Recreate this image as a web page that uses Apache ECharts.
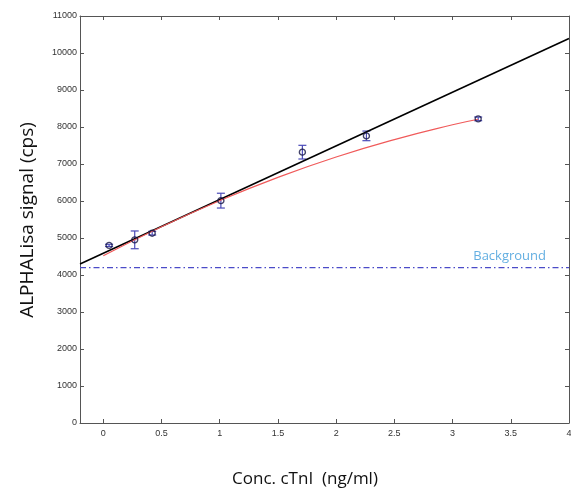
<!DOCTYPE html>
<html>
<head>
<meta charset="utf-8">
<script src="https://cdn.jsdelivr.net/npm/echarts@6/dist/echarts.min.js"></script>
<style>html,body{margin:0;padding:0;background:#fff;}#c{width:571px;height:490px;}</style>
</head>
<body>
<div id="c"></div>
<script>
// Measured points: concentration (ng/ml), signal (cps), error (+/- cps)
var concX = [0.05, 0.27, 0.42, 1.01, 1.71, 2.26, 3.22];
var signalY = [4800, 4950, 5130, 6010, 7320, 7760, 8220];
var signalErr = [30, 240, 50, 200, 185, 130, 50];

// Black linear fit line (read at its ends)
var linX = [-0.2, 4];
var linY = [4300, 10390];

// Red fitted curve
var curveX = [0, 0.5, 1, 1.5, 2, 2.5, 3, 3.22];
var curveY = [4520, 5305, 6010, 6640, 7190, 7660, 8060, 8210];

// Background level and its label position
var backgroundLevel = 4200;
var backgroundLabelX = [3.49];

var xTicks = [0, 0.5, 1, 1.5, 2, 2.5, 3, 3.5, 4];

function zip(a, b) { return a.map(function (v, i) { return [v, b[i]]; }); }

var chart = echarts.init(document.getElementById('c'), null, { renderer: 'canvas' });

var axisLineStyle = { color: '#555', width: 1 };
var tickLabel = { color: '#333', fontSize: 9, fontFamily: 'Liberation Sans, Arial, sans-serif' };

var option = {
  animation: false,
  backgroundColor: '#fff',
  grid: { left: 80, right: 2, top: 16, bottom: 67, containLabel: false, outerBoundsMode: 'none' },
  xAxis: [
    {
      type: 'value', min: -0.2, max: 4, position: 'bottom',
      axisLine: { show: true, onZero: false, lineStyle: axisLineStyle },
      axisTick: { show: true, inside: true, length: 4, lineStyle: axisLineStyle, customValues: xTicks },
      axisLabel: Object.assign({ show: true, margin: 6, customValues: xTicks, showMinLabel: true, showMaxLabel: true,
        hideOverlap: false, formatter: function (v) { return String(v); } }, tickLabel),
      splitLine: { show: false }
    },
    {
      type: 'value', min: -0.2, max: 4, position: 'top',
      axisLine: { show: true, onZero: false, lineStyle: axisLineStyle },
      axisTick: { show: true, inside: true, length: 4, lineStyle: axisLineStyle, customValues: xTicks },
      axisLabel: { show: false },
      splitLine: { show: false }
    }
  ],
  yAxis: [
    {
      type: 'value', min: 0, max: 11000, interval: 1000, position: 'left',
      axisLine: { show: true, onZero: false, lineStyle: axisLineStyle },
      axisTick: { show: true, inside: true, length: 4, lineStyle: axisLineStyle },
      axisLabel: Object.assign({ show: true, margin: 3, formatter: function (v) { return String(v); } }, tickLabel),
      splitLine: { show: false }
    },
    {
      type: 'value', min: 0, max: 11000, interval: 1000, position: 'right',
      axisLine: { show: true, onZero: false, lineStyle: axisLineStyle },
      axisTick: { show: true, inside: true, length: 4, lineStyle: axisLineStyle },
      axisLabel: { show: false },
      splitLine: { show: false }
    }
  ],
  graphic: [
    {
      type: 'text', x: 305, y: 479,
      style: { text: 'Conc. cTnI  (ng/ml)', fill: '#111', font: '17px "Open Sans", sans-serif', textAlign: 'center', textVerticalAlign: 'middle' }
    },
    {
      type: 'text', x: 28, y: 220, rotation: Math.PI / 2,
      style: { text: 'ALPHALisa signal (cps)', fill: '#111', font: '19px "Open Sans", sans-serif', textAlign: 'center', textVerticalAlign: 'middle' }
    }
  ],
  series: [
    {
      type: 'line', name: 'background', data: zip(linX, [backgroundLevel, backgroundLevel]),
      showSymbol: false, symbol: 'none', silent: true,
      lineStyle: { color: '#4b4bc8', width: 1.2, type: [6, 3, 1.5, 3] }
    },
    {
      type: 'scatter', name: 'backgroundLabel', data: zip(backgroundLabelX, [backgroundLevel]),
      symbolSize: 0.01, silent: true,
      label: { show: true, position: 'top', distance: 5, formatter: 'Background', color: '#3b9ad9', fontSize: 13, fontFamily: '"Open Sans", sans-serif' }
    },
    {
      type: 'line', name: 'linear', data: zip(linX, linY),
      showSymbol: false, symbol: 'none',
      lineStyle: { color: '#000', width: 1.6 }
    },
    {
      type: 'line', name: 'curve', data: zip(curveX, curveY),
      smooth: true, showSymbol: false, symbol: 'none',
      lineStyle: { color: '#f05a5a', width: 1.2 }
    },
    {
      type: 'custom', name: 'errors',
      data: concX.map(function (x, i) { return [x, signalY[i] - signalErr[i], signalY[i] + signalErr[i]]; }),
      renderItem: function (params, api) {
        var x = api.value(0);
        var lo = api.coord([x, api.value(1)]);
        var hi = api.coord([x, api.value(2)]);
        var w = 4;
        var st = { stroke: '#4a4ab8', lineWidth: 1.2 };
        return {
          type: 'group',
          children: [
            { type: 'line', shape: { x1: lo[0], y1: lo[1], x2: hi[0], y2: hi[1] }, style: st },
            { type: 'line', shape: { x1: lo[0] - w, y1: lo[1], x2: lo[0] + w, y2: lo[1] }, style: st },
            { type: 'line', shape: { x1: hi[0] - w, y1: hi[1], x2: hi[0] + w, y2: hi[1] }, style: st }
          ]
        };
      },
      z: 3
    },
    {
      type: 'scatter', name: 'points', data: zip(concX, signalY),
      symbol: 'circle', symbolSize: 6,
      itemStyle: { color: 'rgba(255,255,255,0)', borderColor: '#151545', borderWidth: 1.4 },
      z: 4
    }
  ]
};
chart.setOption(option);
</script>
</body>
</html>
